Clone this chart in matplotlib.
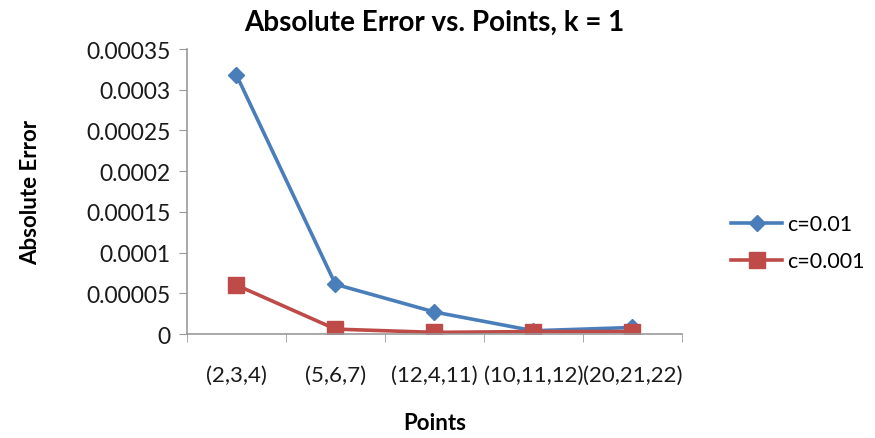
import matplotlib
matplotlib.use("Agg")
import matplotlib.pyplot as plt
import numpy as np

plt.rcParams['font.family'] = ['Lato', 'DejaVu Sans']

# data
points = ['(2,3,4)', '(5,6,7)', '(12,4,11)', '(10,11,12)', '(20,21,22)']
err_c001 = [0.000318, 0.000061, 0.000027, 0.000004, 0.000008]
err_c0001 = [0.000060, 0.000006, 0.000002, 0.000003, 0.000003]
yticks = [0, 0.00005, 0.0001, 0.00015, 0.0002, 0.00025, 0.0003, 0.00035]
ytick_labels = ['0', '0.00005', '0.0001', '0.00015', '0.0002', '0.00025', '0.0003', '0.00035']

fig = plt.figure(figsize=(8.75, 4.39), dpi=100)
ax = fig.add_axes([0.2137, 0.2369, 0.5657, 0.6491])

x = np.arange(len(points))
ax.plot(x, err_c001, color='#4A7EBB', lw=2.6, marker='D', ms=8.5,
        label='c=0.01')
ax.plot(x, err_c0001, color='#BE4B48', lw=2.6, marker='s', ms=11.5,
        label='c=0.001')

ax.set_xlim(-0.5, len(points) - 0.5)
ax.set_ylim(0, 0.00035)
ax.set_yticks(yticks)
ax.set_yticklabels(ytick_labels, fontsize=16.5, color='#1a1a1a')
ax.set_xticks(x)
ax.set_xticklabels(points, fontsize=16, color='#1a1a1a')
ax.tick_params(axis='x', length=0, pad=22)
ax.set_xticks(np.arange(-0.5, len(points)), minor=True)
ax.tick_params(axis='x', which='minor', length=6, color='#999999', direction='out')
ax.tick_params(axis='y', length=6, color='#999999', direction='out', pad=6)

for s in ['top', 'right']:
    ax.spines[s].set_visible(False)
for s in ['left', 'bottom']:
    ax.spines[s].set_color('#999999')
    ax.spines[s].set_linewidth(1.2)

ax.set_title('Absolute Error vs. Points, k = 1', fontsize=20, fontweight='bold', pad=14)
ax.set_xlabel('Points', fontsize=16, fontweight='bold', labelpad=20)
ax.set_ylabel('Absolute Error', fontsize=16, fontweight='bold', labelpad=32)

ax.legend(loc='center left', bbox_to_anchor=(1.1, 0.32), frameon=False,
          fontsize=15.5, handlelength=2.35, borderaxespad=0, borderpad=0,
          labelspacing=0.8, handletextpad=0.25)

fig.savefig('out.png', dpi=100)
